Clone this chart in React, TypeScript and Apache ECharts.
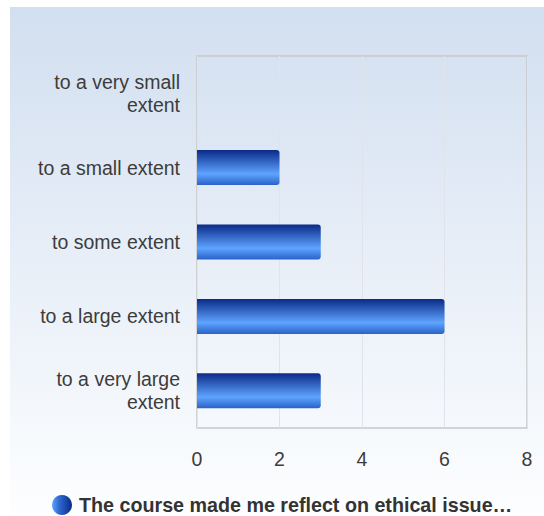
import React, { useEffect, useRef } from "react";
import * as echarts from "echarts";

const categories = [
  "to a very small extent",
  "to a small extent",
  "to some extent",
  "to a large extent",
  "to a very large extent",
];
const values = [0, 2, 3, 6, 3];
const seriesName = "The course made me reflect on ethical issue…";
const xTicks = { min: 0, max: 8, interval: 2 };

export default function App() {
  const ref = useRef<HTMLDivElement>(null);
  useEffect(() => {
    if (!ref.current) return;
    const chart = echarts.init(ref.current, undefined, { renderer: "svg" });
    const barGrad = new echarts.graphic.LinearGradient(0, 0, 0, 1, [
      { offset: 0, color: "#0a2a88" },
      { offset: 0.68, color: "#5ea4ff" },
      { offset: 1, color: "#2a62c8" },
    ]);
    const iconGrad = new echarts.graphic.LinearGradient(0, 0, 1, 0, [
      { offset: 0, color: "#5ea4ff" },
      { offset: 0.35, color: "#2f6ad0" },
      { offset: 1, color: "#0a2a88" },
    ]);
    chart.setOption({
      animation: false,
      backgroundColor: new echarts.graphic.LinearGradient(0, 0, 0, 1, [
        { offset: 0, color: "#d2dff0" },
        { offset: 1, color: "#fdfeff" },
      ]),
      textStyle: { fontFamily: "'Liberation Sans', Arial, sans-serif" },
      grid: { left: 187, top: 49, width: 330, height: 372, show: true, borderColor: "#c8c8c8", borderWidth: 1.5, containLabel: false },
      xAxis: {
        type: "value",
        min: xTicks.min,
        max: xTicks.max,
        interval: xTicks.interval,
        axisLine: { show: false },
        axisTick: { show: false },
        splitLine: { show: true, lineStyle: { color: "#dfe3ea", width: 1 } },
        axisLabel: { color: "#3c3c3c", fontSize: 19.5, margin: 21 },
      },
      yAxis: {
        type: "category",
        data: categories,
        inverse: true,
        axisLine: { show: false },
        axisTick: { show: false },
        splitLine: { show: false },
        axisLabel: {
          color: "#3c3c3c",
          fontSize: 19.5,
          margin: 17,
          lineHeight: 23,
          align: "right",
          formatter: (v: string) => (v.length > 18 ? v.replace(/ (extent)$/, "\n$1") : v),
        },
      },
      legend: {
        left: 37,
        top: 483,
        icon: "circle",
        itemWidth: 20,
        itemHeight: 20,
        itemGap: 10,
        textStyle: { color: "#333", fontSize: 19.7, fontWeight: "bold", padding: [0, 0, 0, 2] },
        data: [{ name: seriesName, itemStyle: { color: iconGrad } }],
      },
      series: [
        {
          name: seriesName,
          type: "bar",
          data: values,
          barWidth: 35,
          itemStyle: {
            color: barGrad,
            borderRadius: [0, 3, 3, 0],
          },
        },
      ],
    });
    return () => chart.dispose();
  }, []);
  return (
    <div
      ref={ref}
      style={{ position: "absolute", left: 10, top: 7, width: 534, height: 509 }}
    />
  );
}
